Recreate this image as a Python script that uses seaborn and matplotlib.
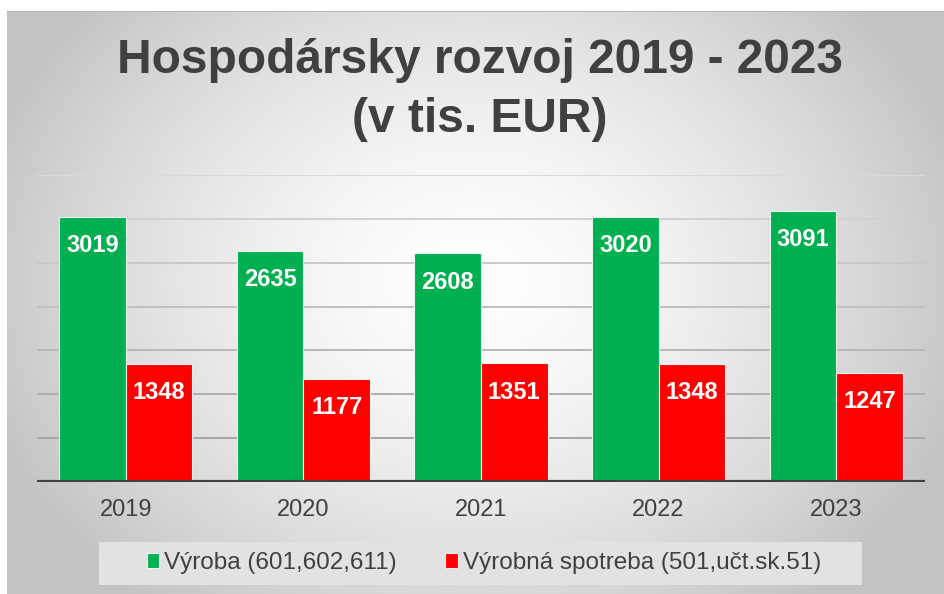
import numpy as np
import pandas as pd
import seaborn as sns
import matplotlib.pyplot as plt
from matplotlib.patches import Rectangle

roky = ["2019", "2020", "2021", "2022", "2023"]
vyroba = [3019, 2635, 2608, 3020, 3091]
spotreba = [1348, 1177, 1351, 1348, 1247]
serie = ["Výroba (601,602,611)", "Výrobná spotreba (501,učt.sk.51)"]
farby = ["#00B050", "#FF0000"]

df = pd.DataFrame({
    "rok": roky * 2,
    "hodnota": vyroba + spotreba,
    "séria": [serie[0]] * len(roky) + [serie[1]] * len(roky),
})

sns.set_style("white")
plt.rcParams["font.family"] = ["Liberation Sans", "DejaVu Sans"]
text_farba = "#404040"

W, H = 944, 594
fig = plt.figure(figsize=(W / 100, H / 100), dpi=100, facecolor="white")

# pozadie - radialny prechod
bg = fig.add_axes([7 / W, 0, 1 - 7 / W, 1 - 11 / H], zorder=0)
yy, xx = np.mgrid[0:583, 0:937]
d = np.sqrt(((xx - 465) / 470) ** 2 + ((yy - 270) / 380) ** 2)
d = np.clip(d, 0, 1.1)
g = (255 - 52 * d ** 1.5) / 255
bg.imshow(np.dstack([g, g, g]), aspect="auto", extent=[0, 1, 0, 1], origin="upper")
bg.axhline(1, color="#B8B8B8", lw=1.5)
bg.set_axis_off()

ax = fig.add_axes([37 / W, 1 - 482 / H, (925 - 37) / W, (482 - 175) / H], zorder=1)
ax.patch.set_alpha(0)

sns.barplot(data=df, x="rok", y="hodnota", hue="séria", palette=farby,
            saturation=1, width=0.75, gap=0, edgecolor="#E8F4EC", linewidth=0.8,
            errorbar=None, ax=ax, zorder=3)

ax.set_ylim(0, 3500)
ax.set_xlim(-0.5, 4.5)
for v in range(500, 3501, 500):
    t = v / 3500
    c = 0.62 + 0.23 * t
    ax.axhline(v, color=(c, c, c), lw=1.4, zorder=1)
ax.axhline(0, color=text_farba, lw=3, zorder=4)

for cont in ax.containers:
    ax.bar_label(cont, fmt="%d", padding=-29, color="white",
                 fontsize=17, fontweight="bold", zorder=5)

ax.set_yticks([])
ax.set_xlabel("")
ax.set_ylabel("")
ax.tick_params(axis="x", length=0, pad=12, labelsize=17, labelcolor=text_farba)
sns.despine(ax=ax, left=True, bottom=True)

ax.legend_.remove()
leg_bg = Rectangle((99 / W, 1 - 585 / H), (862 - 99) / W, 43 / H,
                   transform=fig.transFigure, facecolor="#E2E2E2",
                   edgecolor="none", zorder=1)
fig.patches.append(leg_bg)
handles, labels = ax.get_legend_handles_labels()
leg = fig.legend(handles, labels, loc="center", ncol=2, frameon=False,
                 bbox_to_anchor=(484 / W, 1 - 563 / H),
                 fontsize=17.5, handlelength=0.5, handleheight=0.6,
                 handletextpad=0.2, columnspacing=2.0)
for t in leg.get_texts():
    t.set_color(text_farba)

fig.text(480 / W, 1 - 90 / H, "Hospodársky rozvoj 2019 - 2023\n(v tis. EUR)",
         ha="center", va="center", fontsize=34.5, fontweight="bold",
         color=text_farba, linespacing=1.4)

fig.savefig("out.png", dpi=100)
